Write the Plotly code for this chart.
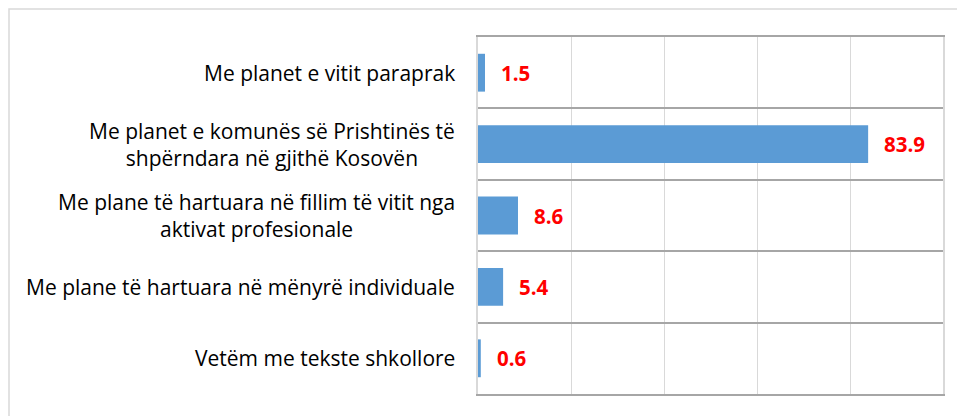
import plotly.graph_objects as go

categories = [
    "Me planet e vitit paraprak",
    "Me planet e komunës së Prishtinës të<br>shpërndara në gjithë Kosovën",
    "Me plane të hartuara në fillim të vitit nga<br>aktivat profesionale",
    "Me plane të hartuara në mënyrë individuale",
    "Vetëm me tekste shkollore",
]
values = [1.5, 83.9, 8.6, 5.4, 0.6]
cat_ids = ["c0", "c1", "c2", "c3", "c4"]

W, H = 965, 416
ML, MR, MT, MB = 470, 30, 29, 30
pw = W - ML - MR
ph = H - MT - MB

fig = go.Figure()
fig.add_trace(go.Bar(
    x=values, y=cat_ids, orientation="h",
    marker=dict(color="#5b9bd5", line=dict(width=0)),
    width=0.53, hoverinfo="skip",
))

annotations = []
for cid, lab, v in zip(cat_ids, categories, values):
    annotations.append(dict(
        x=0, xref="paper", y=cid, yref="y", text=lab, showarrow=False,
        xanchor="right", yanchor="middle", align="center", xshift=-21,
        font=dict(family="Open Sans", size=21, color="#000000"),
    ))
    annotations.append(dict(
        x=v, xref="x", y=cid, yref="y", text=f"<b>{v:.1f}</b>", showarrow=False,
        xanchor="left", yanchor="middle", xshift=14,
        font=dict(family="Open Sans", size=20.5, color="#ff0000"),
    ))

# outer chart frame around the whole figure
px = 1.0
fx0 = -(ML - px) / pw
fx1 = 1 + (MR - px) / pw
fy0 = -(MB - px) / ph
fy1 = 1 + (MT - px) / ph

fig.update_layout(
    width=W, height=H,
    margin=dict(l=ML, r=MR, t=MT, b=MB, pad=0),
    paper_bgcolor="white", plot_bgcolor="white",
    showlegend=False,
    annotations=annotations,
    shapes=[dict(type="rect", xref="paper", yref="paper", x0=fx0, x1=fx1, y0=fy0, y1=fy1,
                 line=dict(color="#d9d9d9", width=1.5), layer="below")],
    xaxis=dict(range=[0, 100], dtick=20, showgrid=True, gridcolor="#d9d9d9", gridwidth=1,
               zeroline=False, showticklabels=False, ticks="",
               showline=True, mirror=True, linecolor="#a6a6a6", linewidth=1.5),
    yaxis=dict(type="category", autorange="reversed", tickson="boundaries",
               showgrid=True, gridcolor="#a6a6a6", gridwidth=1.5,
               showticklabels=False, ticks="", zeroline=False,
               showline=True, mirror=True, linecolor="#d9d9d9", linewidth=1.5),
)

fig.write_html("out.html")
